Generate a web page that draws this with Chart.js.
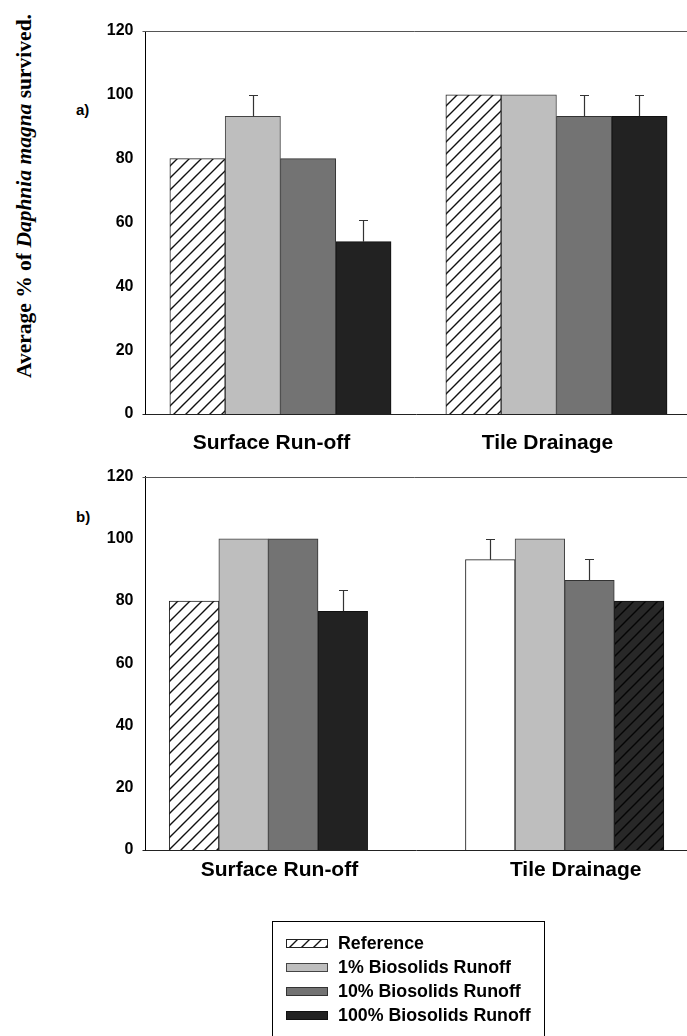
<!DOCTYPE html>
<html>
<head>
<meta charset="utf-8">
<script src="https://cdn.jsdelivr.net/npm/chart.js@4.4.1/dist/chart.umd.min.js"></script>
<style>
  html, body { margin: 0; padding: 0; background: #fff; }
  body { width: 687px; height: 1036px; position: relative; overflow: hidden; }
  #wrapA { position: absolute; left: 0; top: 0; width: 687px; height: 465px; }
  #wrapB { position: absolute; left: 0; top: 455px; width: 687px; height: 440px; }
  .panel { position: absolute; font: bold 15px 'Liberation Sans', Arial, sans-serif; color: #000; line-height: 16px; }
  #ytitle {
    position: absolute; left: 24px; top: 196px;
    transform: translate(-50%, -50%) rotate(-90deg);
    white-space: nowrap; color: #000;
    font: bold 21.5px 'Liberation Serif', 'Times New Roman', serif;
  }
  #legend {
    position: absolute; left: 272px; top: 921px; width: 273px; height: 130px;
    border: 1px solid #000; box-sizing: border-box; background: #fff;
  }
  .item {
    position: absolute; left: 13px; height: 20px; display: flex; align-items: center;
    font: bold 17.8px 'Liberation Sans', Arial, sans-serif; color: #000; white-space: nowrap;
  }
  .item canvas { display: block; width: 42px; height: 9px; margin-right: 10px; }
</style>
</head>
<body>
<div id="ytitle">Average % of <i>Daphnia magna</i> survived.</div>
<div class="panel" style="left:76px; top:102px;">a)</div>
<div class="panel" style="left:76px; top:509px;">b)</div>
<div id="wrapA"><canvas id="chartA"></canvas></div>
<div id="wrapB"><canvas id="chartB"></canvas></div>
<div id="legend"></div>

<script>
// Categories, series and axis ticks
const categories = ['Surface Run-off', 'Tile Drainage'];
const seriesNames = ['Reference', '1% Biosolids Runoff', '10% Biosolids Runoff', '100% Biosolids Runoff'];
const yTicks = [0, 20, 40, 60, 80, 100, 120];

// Panel a) mean survival (%) and upper error
const refA = [80, 100];
const pct1A = [93.3, 100];
const pct10A = [80, 93.3];
const pct100A = [54, 93.3];
const refAErr = [0, 0];
const pct1AErr = [6.7, 0];
const pct10AErr = [0, 6.7];
const pct100AErr = [6.7, 6.7];

// Panel b) mean survival (%) and upper error
const refB = [80, 93.3];
const pct1B = [100, 100];
const pct10B = [100, 86.7];
const pct100B = [76.7, 80];
const refBErr = [0, 6.7];
const pct1BErr = [0, 0];
const pct10BErr = [0, 6.7];
const pct100BErr = [6.7, 0];

// ---- fills ----
function makeHatch(bg, fg) {
  const s = 12;
  const c = document.createElement('canvas');
  c.width = s; c.height = s;
  const g = c.getContext('2d');
  g.fillStyle = bg; g.fillRect(0, 0, s, s);
  g.strokeStyle = fg; g.lineWidth = 1.4;
  g.beginPath();
  g.moveTo(0, s); g.lineTo(s, 0);
  g.moveTo(-1, 1); g.lineTo(1, -1);
  g.moveTo(s - 1, s + 1); g.lineTo(s + 1, s - 1);
  g.stroke();
  return g.createPattern(c, 'repeat');
}
const LIGHT = '#bebebe', MID = '#737373', DARK = '#222222';
const hatchLight = makeHatch('#ffffff', '#111111');
const hatchDark = makeHatch('#282828', '#050505');
const borderColors = ['#222222', '#444444', '#333333', '#111111'];

const fillsA = [hatchLight, LIGHT, MID, DARK];
const fillsB = [[hatchLight, '#ffffff'], LIGHT, MID, [DARK, hatchDark]];
const legendFills = [hatchLight, LIGHT, MID, DARK];

// ---- plugins ----
const errorBars = {
  id: 'errorBars',
  afterDatasetsDraw(chart) {
    const ctx = chart.ctx, y = chart.scales.y;
    ctx.save();
    ctx.strokeStyle = '#333';
    ctx.lineWidth = 1.2;
    chart.data.datasets.forEach((ds, di) => {
      const meta = chart.getDatasetMeta(di);
      (ds.errors || []).forEach((e, j) => {
        if (!e) return;
        const bar = meta.data[j];
        const x = Math.round(bar.x) + 0.5;
        const top = Math.round(y.getPixelForValue(ds.data[j] + e)) + 0.5;
        ctx.beginPath();
        ctx.moveTo(x, bar.y);
        ctx.lineTo(x, top);
        ctx.moveTo(x - 4.5, top);
        ctx.lineTo(x + 4.5, top);
        ctx.stroke();
      });
    });
    ctx.restore();
  }
};

const frame = {
  id: 'frame',
  afterDraw(chart) {
    const { left, right, top, bottom } = chart.chartArea;
    const ctx = chart.ctx;
    ctx.save();
    ctx.lineWidth = 1;
    ctx.strokeStyle = '#555';
    ctx.beginPath();
    ctx.moveTo(left - 3, Math.round(top) + 0.5);
    ctx.lineTo(right, Math.round(top) + 0.5);
    ctx.stroke();
    ctx.strokeStyle = '#222';
    ctx.beginPath();
    ctx.moveTo(left - 3, Math.round(bottom) + 0.5);
    ctx.lineTo(left, Math.round(bottom) + 0.5);
    ctx.stroke();
    ctx.restore();
  }
};

Chart.defaults.font.family = "'Liberation Sans', Arial, sans-serif";
Chart.defaults.color = '#000';

function buildChart(id, values, errors, fills, cfg) {
  const datasets = seriesNames.map((name, i) => ({
    label: name,
    data: values[i],
    errors: errors[i],
    backgroundColor: fills[i],
    borderColor: borderColors[i],
    borderWidth: 1
  }));
  return new Chart(document.getElementById(id), {
    type: 'bar',
    data: { labels: categories.map((_, i) => i), datasets },
    options: {
      responsive: true,
      maintainAspectRatio: false,
      animation: false,
      devicePixelRatio: 1,
      layout: { padding: { top: cfg.padTop, left: 0, right: 0, bottom: 0 } },
      datasets: { bar: { barThickness: cfg.barThickness } },
      plugins: { legend: { display: false }, tooltip: { enabled: false } },
      scales: {
        x: {
          type: 'linear',
          min: cfg.xMin,
          max: cfg.xMax,
          offset: false,
          afterBuildTicks: s => { s.ticks = categories.map((_, i) => ({ value: i })); },
          afterFit: s => { s.height = cfg.xHeight; },
          grid: { display: false, drawTicks: false },
          border: { display: true, color: '#222', width: 1 },
          ticks: {
            autoSkip: false,
            maxRotation: 0,
            padding: cfg.labelPad,
            labelOffset: cfg.labelOffset,
            color: '#000',
            font: { size: 21, weight: 'bold' },
            callback: v => categories[v]
          }
        },
        y: {
          min: yTicks[0],
          max: yTicks[yTicks.length - 1],
          afterFit: s => { s.width = 145.5; },
          afterBuildTicks: s => { s.ticks = yTicks.map(v => ({ value: v })); },
          grid: { display: false, drawTicks: false },
          border: { display: true, color: '#000', width: 1 },
          ticks: {
            padding: 12,
            color: '#000',
            font: { size: 16, weight: 'bold' }
          }
        }
      }
    },
    plugins: [errorBars, frame]
  });
}

buildChart('chartA',
  [refA, pct1A, pct10A, pct100A],
  [refAErr, pct1AErr, pct10AErr, pct100AErr],
  fillsA,
  { padTop: 31, xHeight: 51, xMin: -0.489, xMax: 1.473, barThickness: 55.3, labelPad: 17, labelOffset: -9 });

buildChart('chartB',
  [refB, pct1B, pct10B, pct100B],
  [refBErr, pct1BErr, pct10BErr, pct100BErr],
  fillsB,
  { padTop: 15.7, xHeight: 45, xMin: -0.415, xMax: 1.413, barThickness: 49.6, labelPad: 8, labelOffset: 11 });

// ---- legend ----
const legend = document.getElementById('legend');
seriesNames.forEach((name, i) => {
  const row = document.createElement('div');
  row.className = 'item';
  row.style.top = (11.7 + i * 23.8) + 'px';
  const sw = document.createElement('canvas');
  sw.width = 42; sw.height = 9;
  const g = sw.getContext('2d');
  g.fillStyle = legendFills[i];
  g.fillRect(0, 0, 42, 9);
  g.strokeStyle = borderColors[i];
  g.lineWidth = 1;
  g.strokeRect(0.5, 0.5, 41, 8);
  row.appendChild(sw);
  row.appendChild(document.createTextNode(name));
  legend.appendChild(row);
});
</script>
</body>
</html>
